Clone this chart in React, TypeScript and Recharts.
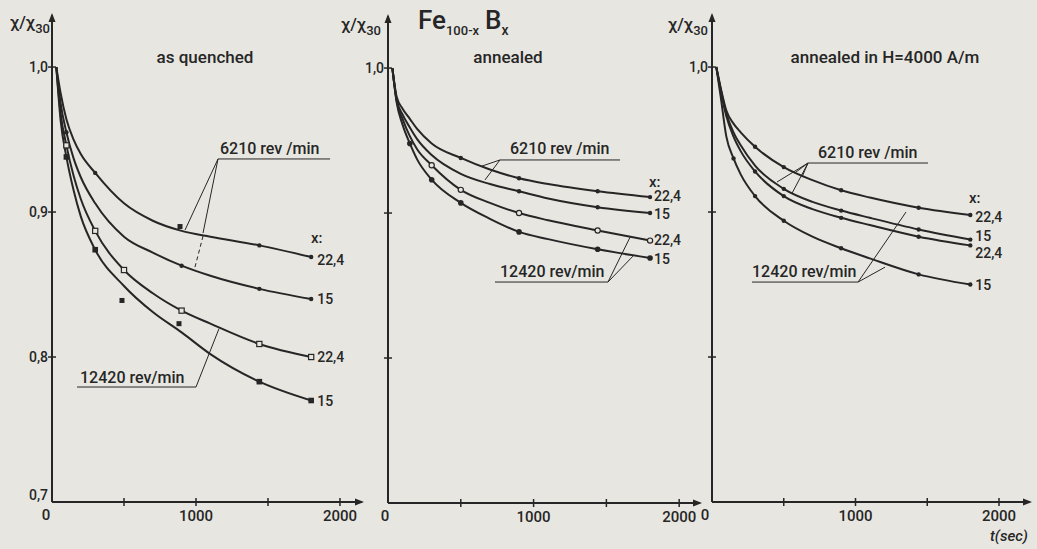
import React from 'react';
import { ComposedChart, Line, XAxis, YAxis, ReferenceLine, ReferenceDot, LabelList } from 'recharts';

const INK = '#262626';
const PAPER = '#e8e6e1';
const FONT = 'Roboto, "DejaVu Sans", sans-serif';

// time grid (s)
const T = [30, 60, 100, 150, 200, 300, 500, 700, 900, 1100, 1440, 1800];

// as quenched
const q6210_224 = [1.0, 0.982, 0.964, 0.95, 0.94, 0.927, 0.906, 0.894, 0.887, 0.883, 0.877, 0.869];
const q6210_15 = [1.0, 0.975, 0.955, 0.937, 0.924, 0.906, 0.883, 0.872, 0.863, 0.856, 0.847, 0.84];
const q12420_224 = [1.0, 0.968, 0.946, 0.925, 0.909, 0.887, 0.86, 0.844, 0.832, 0.823, 0.809, 0.8];
const q12420_15 = [1.0, 0.963, 0.938, 0.915, 0.897, 0.874, 0.849, 0.831, 0.817, 0.802, 0.783, 0.77];
const qStray = [
  { t: 486, v: 0.839 },
  { t: 882, v: 0.823 },
  { t: 889, v: 0.89 },
];

// annealed
const a6210_224 = [1.0, 0.98, 0.972, 0.965, 0.958, 0.948, 0.938, 0.93, 0.924, 0.92, 0.915, 0.911];
const a6210_15 = [1.0, 0.978, 0.968, 0.959, 0.951, 0.94, 0.927, 0.92, 0.915, 0.91, 0.904, 0.9];
const a12420_224 = [1.0, 0.977, 0.965, 0.953, 0.944, 0.933, 0.916, 0.907, 0.9, 0.895, 0.888, 0.881];
const a12420_15 = [1.0, 0.976, 0.961, 0.948, 0.937, 0.923, 0.907, 0.896, 0.887, 0.882, 0.875, 0.869];

// annealed in H = 4000 A/m
const h6210_224 = [1.0, 0.986, 0.97, 0.961, 0.955, 0.945, 0.931, 0.922, 0.915, 0.91, 0.903, 0.898];
const h6210_15 = [1.0, 0.985, 0.968, 0.955, 0.946, 0.932, 0.916, 0.907, 0.901, 0.896, 0.888, 0.881];
const h12420_224 = [1.0, 0.984, 0.966, 0.952, 0.942, 0.928, 0.911, 0.902, 0.896, 0.891, 0.883, 0.877];
const h12420_15 = [1.0, 0.98, 0.952, 0.937, 0.926, 0.911, 0.894, 0.883, 0.875, 0.868, 0.857, 0.85];

const xTicks = [0, 500, 1000, 1500, 2000];

type Shape = 'dot' | 'sq' | 'osq' | 'ocirc' | 'fcirc';
type Series = { key: string; values: number[]; marks: number[]; shape: Shape; label: string; dy: number };

const build = (s: Series[]) =>
  T.map((t, i) => {
    const row: any = { t };
    s.forEach(x => (row[x.key] = x.values[i]));
    return row;
  });

function marker(shape: Shape, cx: number, cy: number, k: any) {
  if (shape === 'sq') return <rect key={k} x={cx - 2.8} y={cy - 2.8} width={5.6} height={5.6} fill={INK} />;
  if (shape === 'osq')
    return <rect key={k} x={cx - 2.6} y={cy - 2.6} width={5.2} height={5.2} fill={PAPER} stroke={INK} strokeWidth={1.2} />;
  if (shape === 'ocirc') return <circle key={k} cx={cx} cy={cy} r={2.6} fill={PAPER} stroke={INK} strokeWidth={1.2} />;
  if (shape === 'fcirc') return <circle key={k} cx={cx} cy={cy} r={2.8} fill={INK} />;
  return <circle key={k} cx={cx} cy={cy} r={2.2} fill={INK} />;
}

type PanelProps = {
  left: number;
  width: number;
  yWidth: number;
  right: number;
  top: number;
  xMax: number;
  series: Series[];
  yLabels: Record<string, string>;
  zeroDx: number;
  zeroDy: number;
  labelDx: number;
  segs: { a: [number, number]; b: [number, number]; dash?: boolean }[];
  strays?: { t: number; v: number }[];
};

const Y_TOP = 1.0359;

function Panel(p: PanelProps) {
  const rows = build(p.series);
  const last = T.length - 1;
  const XTick = (props: any) => {
    const { x, y, payload } = props;
    const v = payload.value;
    return (
      <g>
        {v !== 0 && <line x1={x} x2={x} y1={y - 4} y2={y + 4} stroke={INK} strokeWidth={1.5} />}
        {(v === 1000 || v === 2000) && (
          <text x={x} y={y + 19} textAnchor="middle" fontSize={15} fontWeight={500} fill={INK} fontFamily={FONT}>
            {v}
          </text>
        )}
        {v === 0 && (
          <text x={x + p.zeroDx} y={y + p.zeroDy} textAnchor="middle" fontSize={15} fontWeight={500} fill={INK} fontFamily={FONT}>
            0
          </text>
        )}
      </g>
    );
  };
  const YTick = (props: any) => {
    const { x, y, payload } = props;
    const lab = p.yLabels[payload.value.toFixed(1)];
    const v = payload.value;
    return (
      <g>
        {v > 0.75 && <line x1={x - 4} x2={x + 4} y1={y} y2={y} stroke={INK} strokeWidth={1.5} />}
        {lab && (
          <text x={x - 4} y={y + 5 - (v < 0.75 ? 7 : 0)} textAnchor="end" fontSize={14} fontWeight={500} fill={INK} fontFamily={FONT}>
            {lab}
          </text>
        )}
      </g>
    );
  };
  return (
    <div style={{ position: 'absolute', left: p.left, top: 0 }}>
      <ComposedChart
        width={p.width}
        height={549}
        data={rows}
        margin={{ top: p.top, right: p.right, bottom: 0, left: 0 }}
      >
        <XAxis
          type="number"
          dataKey="t"
          domain={[0, p.xMax]}
          ticks={xTicks}
          height={549 - p.top - 487}
          axisLine={{ stroke: INK, strokeWidth: 2 }}
          tickLine={false}
          tickSize={0}
          tickMargin={0}
          tick={XTick}
          allowDataOverflow
        />
        <YAxis
          type="number"
          domain={[0.7, Y_TOP]}
          ticks={[0.7, 0.8, 0.9, 1.0]}
          width={p.yWidth}
          axisLine={{ stroke: INK, strokeWidth: 2 }}
          tickLine={false}
          tickSize={0}
          tickMargin={0}
          tick={YTick}
          allowDataOverflow
        />
        <ReferenceDot
          x={p.xMax}
          y={0.7}
          ifOverflow="visible"
          shape={(s: any) => <path d={`M${s.cx + 2},${s.cy} l-9,-3.5 l0,7 z`} fill={INK} />}
        />
        <ReferenceDot
          x={0}
          y={Y_TOP}
          ifOverflow="visible"
          shape={(s: any) => <path d={`M${s.cx},${s.cy - 2} l-3.5,9 l7,0 z`} fill={INK} />}
        />
        {p.segs.map((s, i) => (
          <ReferenceLine
            key={'s' + i}
            segment={[
              { x: s.a[0], y: s.a[1] },
              { x: s.b[0], y: s.b[1] },
            ]}
            stroke={INK}
            strokeWidth={1}
            strokeDasharray={s.dash ? '4 3' : undefined}
            ifOverflow="visible"
          />
        ))}
        {p.series.map(s => (
          <Line
            key={s.key}
            type="monotone"
            dataKey={s.key}
            stroke={INK}
            strokeWidth={2}
            isAnimationActive={false}
            dot={(d: any) =>
              s.marks.includes(d.payload.t) ? marker(s.shape, d.cx, d.cy, d.index) : <g key={d.index} />
            }
            activeDot={false}
          >
            <LabelList
              dataKey={s.key}
              content={(l: any) =>
                l.index === last ? (
                  <text x={l.x + p.labelDx} y={l.y + 5 + s.dy} fontSize={14} fontWeight={500} fill={INK} fontFamily={FONT}>
                    {s.label}
                  </text>
                ) : null
              }
            />
          </Line>
        ))}
        {(p.strays || []).map((d, i) => (
          <ReferenceDot
            key={'d' + i}
            x={d.t}
            y={d.v}
            ifOverflow="visible"
            shape={(s: any) => <rect x={s.cx - 2.5} y={s.cy - 2.5} width={5} height={5} fill={INK} />}
          />
        ))}
      </ComposedChart>
    </div>
  );
}

const quenched: Series[] = [
  { key: 'a', values: q6210_224, marks: [300, 1440, 1800], shape: 'dot', label: '22,4', dy: 3 },
  { key: 'b', values: q6210_15, marks: [100, 900, 1440, 1800], shape: 'dot', label: '15', dy: 0 },
  { key: 'c', values: q12420_224, marks: [100, 300, 500, 900, 1440, 1800], shape: 'osq', label: '22,4', dy: 0 },
  { key: 'd', values: q12420_15, marks: [100, 300, 1440, 1800], shape: 'sq', label: '15', dy: 0 },
];
const annealed: Series[] = [
  { key: 'a', values: a6210_224, marks: [500, 900, 1440, 1800], shape: 'dot', label: '22,4', dy: -1 },
  { key: 'b', values: a6210_15, marks: [900, 1440, 1800], shape: 'dot', label: '15', dy: 1 },
  { key: 'c', values: a12420_224, marks: [300, 500, 900, 1440, 1800], shape: 'ocirc', label: '22,4', dy: -1 },
  { key: 'd', values: a12420_15, marks: [150, 300, 500, 900, 1440, 1800], shape: 'fcirc', label: '15', dy: 1 },
];
const field: Series[] = [
  { key: 'a', values: h6210_224, marks: [300, 500, 900, 1440, 1800], shape: 'dot', label: '22,4', dy: 2 },
  { key: 'b', values: h6210_15, marks: [500, 900, 1440, 1800], shape: 'dot', label: '15', dy: -4 },
  { key: 'c', values: h12420_224, marks: [300, 500, 900, 1440, 1800], shape: 'dot', label: '22,4', dy: 8 },
  { key: 'd', values: h12420_15, marks: [150, 300, 500, 900, 1440, 1800], shape: 'dot', label: '15', dy: 0 },
];

const txt = { fill: INK, fontFamily: FONT, fontWeight: 500 } as const;

function YName({ x, y }: { x: number; y: number }) {
  return (
    <text x={x} y={y} fontSize={17} {...txt}>
      χ/χ<tspan fontSize={13} dy={5}>30</tspan>
    </text>
  );
}

export default function App() {
  return (
    <div style={{ position: 'absolute', left: 0, top: 0, width: 1037, height: 549, background: PAPER, overflow: 'hidden' }}>
      <Panel
        left={0}
        width={380}
        yWidth={52}
        right={18}
        top={15}
        xMax={2153}
        series={quenched}
        yLabels={{ '0.7': '0,7', '0.8': '0,8', '0.9': '0,9', '1.0': '1,0' }}
        zeroDx={-6}
        zeroDy={18}
        labelDx={6}
        strays={qStray}
        segs={[
          { a: [1153, 0.9366], b: [1931, 0.9366] },
          { a: [1153, 0.9366], b: [924, 0.8876] },
          { a: [1153, 0.9366], b: [1049, 0.8855] },
          { a: [1049, 0.8834], b: [993, 0.862], dash: true },
          { a: [174, 0.7793], b: [1000, 0.7793] },
          { a: [1000, 0.7793], b: [1160, 0.8196] },
        ]}
      />
      <Panel
        left={340}
        width={380}
        yWidth={48}
        right={20}
        top={16}
        xMax={2143}
        series={annealed}
        yLabels={{ '1.0': '1,0' }}
        zeroDx={-3}
        zeroDy={18}
        labelDx={4}
        segs={[
          { a: [769, 0.9366], b: [1594, 0.9366] },
          { a: [769, 0.9366], b: [646, 0.9324] },
          { a: [769, 0.9366], b: [666, 0.9228] },
          { a: [735, 0.8524], b: [1511, 0.8524] },
          { a: [1511, 0.8524], b: [1663, 0.8834] },
          { a: [1511, 0.8524], b: [1683, 0.8703] },
        ]}
      />
      <Panel
        left={670}
        width={367}
        yWidth={42}
        right={7}
        top={15}
        xMax={2216}
        series={field}
        yLabels={{ '1.0': '1,0' }}
        zeroDx={-7}
        zeroDy={18}
        labelDx={5}
        segs={[
          { a: [669, 0.9338], b: [1505, 0.9338] },
          { a: [669, 0.9338], b: [453, 0.9207] },
          { a: [669, 0.9338], b: [558, 0.913] },
          { a: [669, 0.9338], b: [578, 0.927] },
          { a: [669, 0.9338], b: [627, 0.9241] },
          { a: [279, 0.8517], b: [1018, 0.8517] },
          { a: [1018, 0.8517], b: [1352, 0.9] },
          { a: [1018, 0.8517], b: [1206, 0.862] },
        ]}
      />
      <svg width={1037} height={549} style={{ position: 'absolute', left: 0, top: 0, pointerEvents: 'none' }}>
        <YName x={10} y={28} />
        <YName x={341} y={30} />
        <YName x={668} y={30} />
        <text x={418} y={29} fontSize={26} {...txt}>
          Fe<tspan fontSize={13} dy={6}>100-x</tspan>
          <tspan fontSize={26} dy={-6} dx={6}>B</tspan>
          <tspan fontSize={14} dy={6}>x</tspan>
        </text>
        <text x={205} y={63} fontSize={17} textAnchor="middle" {...txt}>as quenched</text>
        <text x={508} y={63} fontSize={17} textAnchor="middle" {...txt}>annealed</text>
        <text x={885} y={63} fontSize={17} textAnchor="middle" {...txt}>annealed in H=4000 A/m</text>
        <text x={220} y={154} fontSize={16} {...txt}>6210 rev /min</text>
        <text x={510} y={154} fontSize={16} {...txt}>6210 rev /min</text>
        <text x={818} y={158} fontSize={16} {...txt}>6210 rev /min</text>
        <text x={80} y={383} fontSize={16} {...txt}>12420 rev/min</text>
        <text x={500} y={277} fontSize={16} {...txt}>12420 rev/min</text>
        <text x={752} y={277} fontSize={16} {...txt}>12420 rev/min</text>
        <text x={311} y={243} fontSize={15} {...txt}>x:</text>
        <text x={649} y={187} fontSize={15} {...txt}>x:</text>
        <text x={969} y={203} fontSize={15} {...txt}>x:</text>
        <text x={990} y={541} fontSize={15} fontStyle="italic" {...txt}>t(sec)</text>
      </svg>
    </div>
  );
}
